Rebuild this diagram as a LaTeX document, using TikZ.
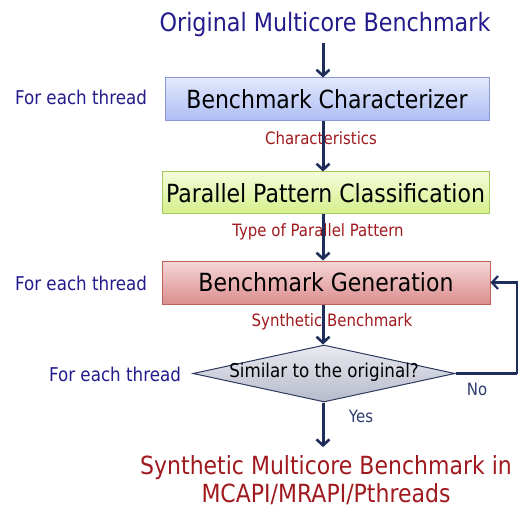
\documentclass[tikz,border=0pt]{standalone}
\usepackage{fontspec}
\setmainfont{DejaVu Sans}[FakeStretch=0.88]
\usetikzlibrary{arrows.meta,shapes.geometric,calc}
\definecolor{arrowc}{HTML}{1F2D5A}
\definecolor{threadc}{HTML}{231B8C}
\definecolor{labred}{HTML}{A0191E}
\definecolor{yesno}{HTML}{2D3C6E}
\definecolor{bluetop}{HTML}{E2E8FD}
\definecolor{bluebot}{HTML}{ADBDF4}
\definecolor{blueedge}{HTML}{8A9AD0}
\definecolor{greentop}{HTML}{F5FCDA}
\definecolor{greenbot}{HTML}{D5EF8A}
\definecolor{greenedge}{HTML}{A8C860}
\definecolor{redtop}{HTML}{F5D6D6}
\definecolor{redbot}{HTML}{DC8E8E}
\definecolor{rededge}{HTML}{C0605A}
\definecolor{graytop}{HTML}{EAEBF1}
\definecolor{graybot}{HTML}{B6BACA}
\definecolor{grayedge}{HTML}{2D3A5E}
\tikzset{
  flow/.style={draw=arrowc, line width=3pt, -{Straight Barb[length=6pt,width=13pt,line width=2.6pt]}},
  loopline/.style={draw=arrowc, line width=2.4pt},
  procbox/.style={rectangle, line width=1pt, inner sep=0pt, font=\fontsize{25}{29}\selectfont, text=black},
  bluebox/.style={procbox, draw=blueedge, top color=bluetop, bottom color=bluebot},
  greenbox/.style={procbox, draw=greenedge, top color=greentop, bottom color=greenbot},
  redbox/.style={procbox, draw=rededge, top color=redtop, bottom color=redbot},
  threadtxt/.style={text=threadc, font=\fontsize{19}{22}\selectfont},
  edgetxt/.style={text=labred, font=\fontsize{17}{20}\selectfont},
  ynt/.style={text=yesno, font=\fontsize{17}{20}\selectfont},
}
\begin{document}
\begin{tikzpicture}[x=1pt,y=-1pt]
\useasboundingbox (0,0) rectangle (518,510);
\coordinate (ax) at (323,0);
\node[text=threadc, font=\fontsize{25.3}{29}\selectfont] (title) at (325,25) {Original Multicore Benchmark};
\node[bluebox, minimum width=324pt, minimum height=43pt] (b1) at (327,99.5) {Benchmark Characterizer};
\node[greenbox, minimum width=327pt, minimum height=42pt] (b2) at (325.5,193) {Parallel Pattern Classification};
\node[redbox, minimum width=328pt, minimum height=43pt] (b3) at (326,282.5) {Benchmark Generation};
\node[diamond, draw=grayedge, line width=1pt, inner sep=0pt, minimum width=262pt, minimum height=57pt, top color=graytop, bottom color=graybot] (dec) at (324,373.5) {};
\node[font=\fontsize{19}{22}\selectfont] (dectxt) at (324,372) {Similar to the original?};
\node[threadtxt] (t1) at (81,97) {For each thread};
\node[threadtxt] (t2) at (81,283) {For each thread};
\node[threadtxt] (t3) at (115,374) {For each thread};
\node[edgetxt] (l1) at (321,138) {Characteristics};
\node[edgetxt] (l2) at (318,232) {Type of Parallel Pattern};
\node[edgetxt] (l3) at (332,322) {Synthetic Benchmark};
\node[ynt] (no) at (477,389) {No};
\node[ynt] (yes) at (361,416) {Yes};
\node[text=labred, font=\fontsize{25}{28}\selectfont, align=center, inner sep=1pt] (out) at (326,480) {Synthetic Multicore Benchmark in\\MCAPI/MRAPI/Pthreads};
\coordinate (lc) at (517,373.5);
\draw[flow] (title.south -| ax) ++(0,2) -- (b1.north -| ax);
\draw[flow] (b1.south -| ax) -- (b2.north -| ax);
\draw[flow] (b2.south -| ax) -- (b3.north -| ax);
\draw[flow] (b3.south -| ax) -- (dec.north -| ax);
\draw[flow] (dec.south -| ax) -- ($(out.north -| ax)+(0,-7)$);
\draw[loopline] (dec.east) -- (lc);
\draw[loopline, -{Straight Barb[length=6pt,width=13pt,line width=2.2pt]}] (lc) |- (b3.east);
\end{tikzpicture}
\end{document}
